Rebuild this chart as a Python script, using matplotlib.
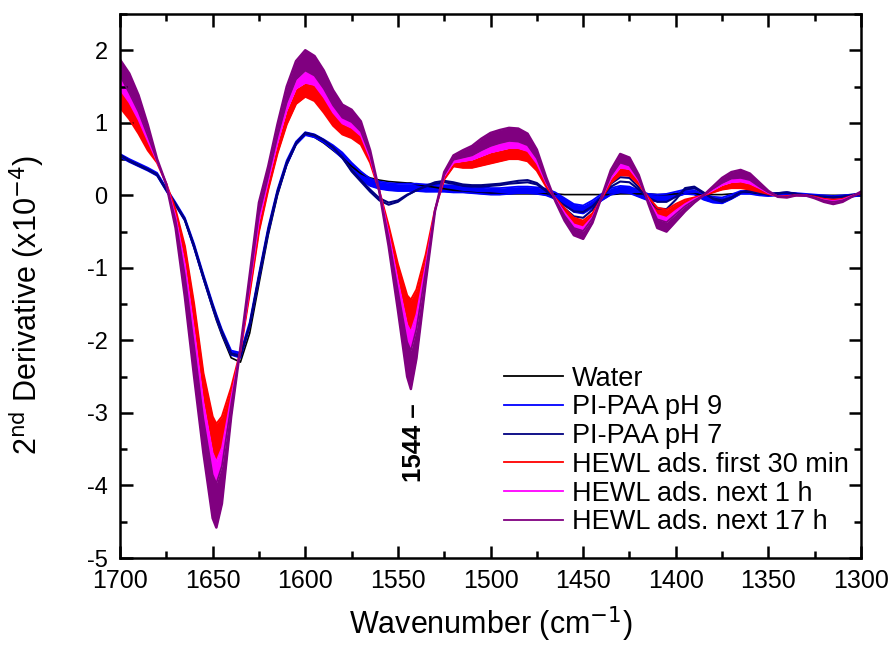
import numpy as np
import matplotlib.pyplot as plt
from matplotlib.lines import Line2D
from matplotlib.ticker import MultipleLocator

plt.rcParams['font.family'] = ['Liberation Sans', 'DejaVu Sans']
plt.rcParams['axes.unicode_minus'] = False

# Wavenumbers (cm-1) at which the spectra were read
wn = [1700, 1695, 1690, 1685, 1680, 1675, 1670, 1665, 1660, 1655, 1650,
      1648,
      1645, 1640, 1635, 1630, 1625, 1620, 1615, 1610, 1605, 1600, 1595, 1590, 1585, 1580,
      1575, 1570, 1565, 1560, 1555, 1550, 1545,
      1543,
      1540, 1535, 1530, 1525, 1520, 1515, 1510, 1505, 1500, 1495, 1490, 1485, 1480, 1475,
      1470, 1465, 1460, 1455, 1450, 1445, 1440, 1435, 1430, 1425, 1420, 1415, 1410, 1405,
      1400, 1395, 1390, 1385, 1380, 1375, 1370, 1365, 1360, 1355, 1350, 1345, 1340, 1335,
      1330, 1325, 1320, 1315, 1310, 1305, 1300]

# Water
water = [0.56, 0.49, 0.42, 0.36, 0.28, 0.09, -0.12, -0.34, -0.72, -1.15, -1.56,
         -1.72,
         -1.93, -2.24, -2.30, -1.90, -1.22, -0.55, 0.00, 0.42, 0.70, 0.85, 0.80, 0.72, 0.62, 0.52,
         0.40, 0.30, 0.24, 0.21, 0.19, 0.18, 0.17,
         0.17,
         0.15, 0.13, 0.11, 0.09, 0.07, 0.05, 0.04, 0.03, 0.03, 0.02, 0.02, 0.02, 0.02, 0.02,
         0.02, 0.02, 0.01, 0.01, 0.01, 0.01, 0.01, 0.01, 0.02, 0.02, 0.02, 0.02, 0.01, 0.01,
         0.02, 0.02, 0.02, 0.01, 0.01, 0.01, 0.02, 0.03, 0.03, 0.02, 0.01, 0.01, 0.01, 0.01,
         0.01, 0.00, 0.00, 0.00, 0.00, 0.01, 0.02]

# PI-PAA pH 9 (upper / lower edge of the bundle)
ph9_hi = [0.57, 0.50, 0.44, 0.38, 0.31, 0.10, -0.10, -0.31, -0.67, -1.09, -1.49,
          -1.64,
          -1.85, -2.14, -2.17, -1.75, -1.08, -0.44, 0.08, 0.48, 0.74, 0.87, 0.84, 0.77, 0.69, 0.59,
          0.45, 0.33, 0.23, 0.19, 0.17, 0.16, 0.16,
          0.16,
          0.16, 0.15, 0.15, 0.14, 0.14, 0.13, 0.12, 0.11, 0.10, 0.10, 0.11, 0.12, 0.12, 0.11,
          0.09, 0.04, -0.04, -0.12, -0.14, -0.07, 0.02, 0.10, 0.13, 0.12, 0.07, 0.02, 0.01, 0.02,
          0.05, 0.08, 0.07, 0.01, -0.02, -0.03, 0.01, 0.06, 0.06, 0.04, 0.03, 0.03, 0.04, 0.03,
          0.02, 0.01, 0.00, -0.01, 0.00, 0.01, 0.03]
ph9_lo = [0.53, 0.46, 0.40, 0.34, 0.27, 0.06, -0.14, -0.35, -0.73, -1.15, -1.55,
          -1.70,
          -1.91, -2.20, -2.24, -1.81, -1.16, -0.52, 0.02, 0.42, 0.70, 0.83, 0.80, 0.73, 0.63, 0.51,
          0.35, 0.21, 0.13, 0.09, 0.07, 0.06, 0.06,
          0.06,
          0.06, 0.05, 0.05, 0.05, 0.04, 0.04, 0.03, 0.02, 0.01, 0.01, 0.02, 0.03, 0.03, 0.02,
          0.00, -0.05, -0.13, -0.23, -0.25, -0.17, -0.07, 0.01, 0.04, 0.03, -0.02, -0.07, -0.08, -0.07,
          -0.02, 0.02, 0.01, -0.06, -0.10, -0.11, -0.05, 0.02, 0.02, 0.00, -0.01, 0.00, 0.01, 0.00,
          -0.01, -0.02, -0.03, -0.04, -0.03, -0.02, 0.00]

# PI-PAA pH 7 (two traces)
ph7_a = [0.55, 0.47, 0.41, 0.35, 0.28, 0.07, -0.13, -0.34, -0.71, -1.13, -1.53,
         -1.68,
         -1.89, -2.19, -2.22, -1.80, -1.13, -0.49, 0.04, 0.44, 0.71, 0.86, 0.83, 0.76, 0.66, 0.52,
         0.33, 0.19, 0.05, -0.07, -0.13, -0.09, 0.00,
         0.03,
         0.07, 0.13, 0.18, 0.20, 0.18, 0.15, 0.14, 0.14, 0.15, 0.16, 0.18, 0.20, 0.21, 0.17,
         0.07, -0.06, -0.18, -0.29, -0.31, -0.20, -0.02, 0.16, 0.25, 0.24, 0.11, -0.06, -0.18, -0.19,
         -0.06, 0.10, 0.12, 0.04, -0.05, -0.09, -0.04, 0.04, 0.07, 0.03, 0.01, 0.03, 0.04, 0.02,
         0.00, -0.01, -0.02, -0.03, -0.02, 0.00, 0.02]
ph7_b = [0.56, 0.48, 0.42, 0.36, 0.29, 0.08, -0.12, -0.33, -0.70, -1.12, -1.52,
         -1.67,
         -1.88, -2.18, -2.21, -1.79, -1.12, -0.48, 0.05, 0.45, 0.72, 0.86, 0.83, 0.76, 0.66, 0.53,
         0.35, 0.21, 0.08, -0.04, -0.10, -0.07, 0.01,
         0.03,
         0.07, 0.12, 0.16, 0.18, 0.16, 0.13, 0.12, 0.12, 0.13, 0.14, 0.16, 0.17, 0.18, 0.15,
         0.06, -0.05, -0.14, -0.22, -0.23, -0.15, -0.02, 0.12, 0.19, 0.18, 0.08, -0.03, -0.09, -0.09,
         -0.02, 0.08, 0.10, 0.03, -0.04, -0.07, -0.03, 0.04, 0.06, 0.03, 0.01, 0.03, 0.04, 0.02,
         0.00, -0.01, -0.02, -0.03, -0.02, 0.00, 0.02]

# HEWL adsorption: first 30 min spans hewl_r0..hewl_r1,
# next 1 h spans hewl_r1..hewl_m1, next 17 h spans hewl_m1..hewl_p1
hewl_r0 = [1.21, 1.05, 0.85, 0.62, 0.45, 0.16, -0.20, -0.70, -1.50, -2.45, -3.05,
           -3.15,
           -3.05, -2.65, -2.15, -1.35, -0.50, 0.08, 0.58, 0.98, 1.26, 1.36, 1.30, 1.14, 0.96, 0.84,
           0.79, 0.70, 0.45, 0.06, -0.42, -0.95, -1.38,
           -1.44,
           -1.30, -0.82, -0.20, 0.22, 0.40, 0.38, 0.38, 0.41, 0.44, 0.47, 0.50, 0.50, 0.47, 0.34,
           0.12, -0.04, -0.18, -0.31, -0.35, -0.25, -0.04, 0.17, 0.28, 0.27, 0.15, -0.02, -0.17, -0.20,
           -0.12, -0.06, -0.03, 0.00, 0.04, 0.08, 0.10, 0.10, 0.08, 0.05, 0.02, -0.01, -0.01, 0.00,
           0.00, -0.02, -0.05, -0.06, -0.05, -0.01, 0.03]
hewl_r1 = [1.46, 1.28, 1.04, 0.75, 0.47, 0.16, -0.29, -0.95, -1.86, -2.85, -3.55,
           -3.67,
           -3.48, -2.79, -2.13, -1.26, -0.36, 0.20, 0.72, 1.17, 1.47, 1.55, 1.52, 1.35, 1.14, 0.99,
           0.93, 0.82, 0.51, 0.06, -0.52, -1.18, -1.78,
           -1.88,
           -1.64, -0.96, -0.21, 0.26, 0.45, 0.47, 0.49, 0.54, 0.59, 0.62, 0.65, 0.65, 0.61, 0.44,
           0.17, -0.05, -0.24, -0.40, -0.44, -0.30, -0.03, 0.23, 0.38, 0.36, 0.20, -0.05, -0.27, -0.31,
           -0.21, -0.12, -0.05, 0.00, 0.07, 0.14, 0.18, 0.19, 0.16, 0.10, 0.03, -0.01, -0.02, 0.00,
           0.00, -0.03, -0.06, -0.08, -0.06, -0.01, 0.04]
hewl_m1 = [1.65, 1.41, 1.15, 0.82, 0.48, 0.15, -0.34, -1.10, -2.07, -3.08, -3.85,
           -3.97,
           -3.73, -2.88, -2.12, -1.21, -0.27, 0.26, 0.81, 1.28, 1.60, 1.72, 1.65, 1.47, 1.24, 1.07,
           1.01, 0.88, 0.55, 0.05, -0.58, -1.31, -2.02,
           -2.14,
           -1.84, -1.04, -0.21, 0.28, 0.49, 0.52, 0.55, 0.62, 0.68, 0.72, 0.75, 0.74, 0.69, 0.51,
           0.19, -0.06, -0.28, -0.45, -0.49, -0.32, -0.03, 0.27, 0.45, 0.41, 0.22, -0.07, -0.33, -0.37,
           -0.26, -0.15, -0.07, 0.00, 0.09, 0.17, 0.23, 0.24, 0.21, 0.12, 0.04, -0.01, -0.02, 0.00,
           0.00, -0.03, -0.07, -0.09, -0.07, -0.02, 0.04]
hewl_p1 = [1.87, 1.68, 1.38, 0.97, 0.50, 0.15, -0.45, -1.40, -2.50, -3.55, -4.45,
           -4.58,
           -4.25, -3.05, -2.10, -1.10, -0.10, 0.40, 0.98, 1.50, 1.85, 2.00, 1.92, 1.72, 1.45, 1.25,
           1.18, 1.02, 0.62, 0.05, -0.70, -1.58, -2.50,
           -2.67,
           -2.25, -1.20, -0.22, 0.32, 0.55, 0.62, 0.68, 0.78, 0.86, 0.90, 0.93, 0.92, 0.85, 0.63,
           0.25, -0.08, -0.35, -0.55, -0.60, -0.38, -0.02, 0.35, 0.57, 0.52, 0.28, -0.10, -0.45, -0.50,
           -0.36, -0.22, -0.10, 0.00, 0.12, 0.24, 0.32, 0.35, 0.30, 0.18, 0.06, -0.02, -0.03, 0.00,
           0.00, -0.04, -0.09, -0.12, -0.09, -0.02, 0.05]

labels = ['Water', 'PI-PAA pH 9', 'PI-PAA pH 7', 'HEWL ads. first 30 min',
          'HEWL ads. next 1 h', 'HEWL ads. next 17 h']
colors = ['#000000', '#0000FF', '#000080', '#FF0000', '#FF00FF', '#800080']

fig = plt.figure(figsize=(8.93, 6.5), dpi=100)
ax = fig.add_axes([0.1344, 0.1415, 0.8298, 0.837])

# Reference spectra
ax.plot(wn, water, color=colors[0], lw=1.2)
ax.fill_between(wn, ph9_lo, ph9_hi, color=colors[1], lw=0)
ax.plot(wn, ph9_hi, color=colors[1], lw=1.3)
ax.plot(wn, ph9_lo, color=colors[1], lw=1.3)
ax.plot(wn, ph7_a, color=colors[2], lw=1.5)
ax.plot(wn, ph7_b, color=colors[2], lw=1.5)

# HEWL adsorption bundles
ax.fill_between(wn, hewl_r0, hewl_r1, color=colors[3], lw=0)
ax.fill_between(wn, hewl_r1, hewl_m1, color=colors[4], lw=0)
ax.fill_between(wn, hewl_m1, hewl_p1, color=colors[5], lw=0)
ax.plot(wn, hewl_r0, color=colors[3], lw=1.5)
ax.plot(wn, hewl_r1, color=colors[4], lw=1.2)
ax.plot(wn, hewl_m1, color=colors[5], lw=1.2)
ax.plot(wn, hewl_p1, color=colors[5], lw=1.8)

# Peak label
ax.text(1541.5, -3.41, '1544 \u2013', rotation=90, ha='center', va='center',
        fontsize=18.5, fontweight='bold')

# Axes
ax.set_xlim(1700, 1300)
ax.set_ylim(-5, 2.5)
ax.xaxis.set_major_locator(MultipleLocator(50))
ax.xaxis.set_minor_locator(MultipleLocator(25))
ax.yaxis.set_major_locator(MultipleLocator(1))
ax.yaxis.set_minor_locator(MultipleLocator(0.5))
ax.tick_params(which='both', direction='in', top=True, right=True, width=1.8)
ax.tick_params(which='major', length=9)
ax.tick_params(which='minor', length=5)
ax.tick_params(axis='x', which='major', labelsize=18, pad=8)
ax.tick_params(axis='y', which='major', labelsize=17, pad=9)
for s in ax.spines.values():
    s.set_linewidth(1.8)

ax.set_xlabel('Wavenumber (cm$^{-1}$)', fontsize=22, labelpad=8)
ax.set_ylabel('2$^{\\mathrm{nd}}$ Derivative (x10$^{-4}$)', fontsize=22)
ax.yaxis.set_label_coords(-0.1, 0.465)

# Legend
handles = [Line2D([], [], color=c, lw=1.3) for c in colors]
ax.legend(handles, labels, loc='lower right', frameon=False, fontsize=19.5,
          handlelength=2.2, handletextpad=0.33, labelspacing=0.1,
          borderaxespad=0.2, bbox_to_anchor=(1.006, 0.012))

fig.savefig('out.png', dpi=100)
